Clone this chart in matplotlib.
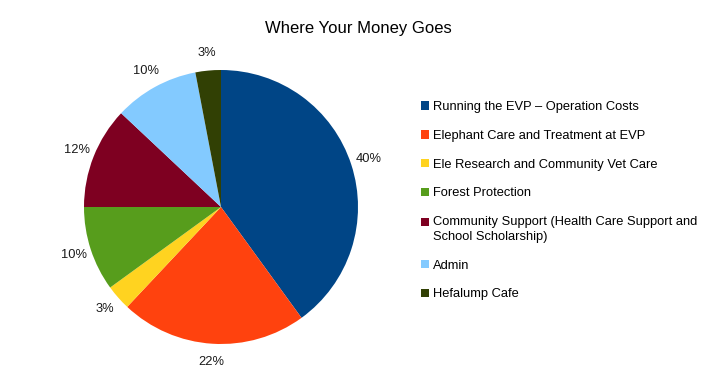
import matplotlib.pyplot as plt
from matplotlib.patches import Patch

plt.rcParams['font.family'] = ['Liberation Sans', 'DejaVu Sans']

title = "Where Your Money Goes"
categories = [
    "Running the EVP \u2013 Operation Costs",
    "Elephant Care and Treatment at EVP",
    "Ele Research and Community Vet Care",
    "Forest Protection",
    "Community Support (Health Care Support and\nSchool Scholarship)",
    "Admin",
    "Hefalump Cafe",
]
shares = [40, 22, 3, 10, 12, 10, 3]
colors = ["#004586", "#ff420e", "#ffd320", "#579d1c", "#7e0021", "#83caff", "#314004"]

fig = plt.figure(figsize=(7.16, 3.88), dpi=100)
W, H = 716, 388
cx, cy, r = 221, 207, 137
ax = fig.add_axes([(cx - r) / W, (H - cy - r) / H, 2 * r / W, 2 * r / H])

wedges, texts = ax.pie(shares, colors=colors, startangle=90, counterclock=False,
                       labels=[f"{s}%" for s in shares], labeldistance=1.13,
                       wedgeprops=dict(linewidth=0),
                       textprops=dict(fontsize=9.3, color="#1a1a1a"))
for t in texts:
    t.set_horizontalalignment('center')
    t.set_verticalalignment('center')
ax.set_xlim(-1, 1)
ax.set_ylim(-1, 1)
ax.set_aspect('equal')

fig.text(358 / W, 1 - 28 / H, title, ha='center', va='center', fontsize=12)

handles = [Patch(facecolor=c, edgecolor='none') for c in colors]
leg = fig.legend(handles, categories, loc='upper left',
                 bbox_to_anchor=(421 / W, 1 - 101 / H), frameon=False,
                 fontsize=9.3, handlelength=0.65, handleheight=0.65, handletextpad=0.3,
                 labelspacing=1.3, borderpad=0, borderaxespad=0)
for t in leg.get_texts():
    t.set_linespacing(1.3)
# put the marker of the two-line entry next to its first line
h = leg.legend_handles[4]
h.set_y(h.get_y() + 5.4)

fig.savefig("out.png", dpi=100)
